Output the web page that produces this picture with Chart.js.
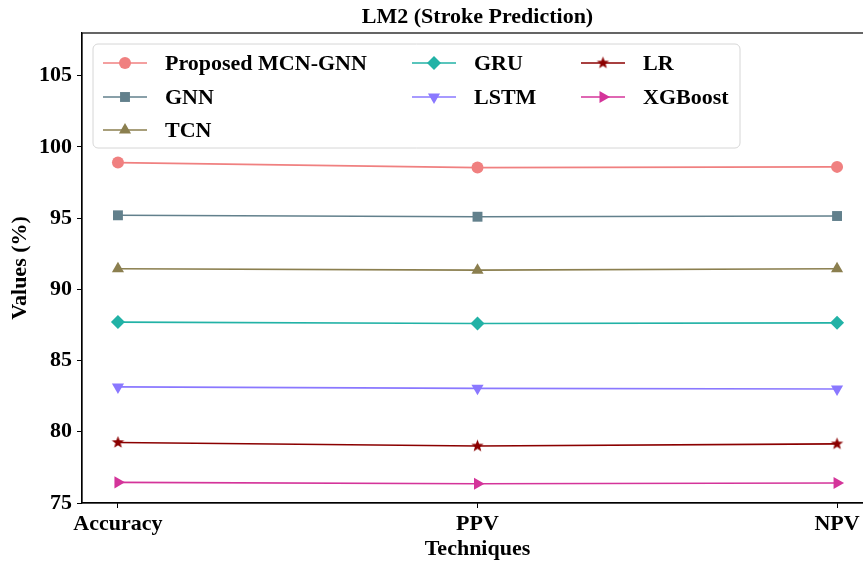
<!DOCTYPE html>
<html>
<head>
<meta charset="utf-8">
<title>LM2 (Stroke Prediction)</title>
<script src="https://cdn.jsdelivr.net/npm/chart.js@4.4.1/dist/chart.umd.min.js"></script>
<style>
  html, body { margin: 0; padding: 0; background: #fff; overflow: hidden; }
  #wrap { width: 880px; height: 566px; }
</style>
</head>
<body>
<div id="wrap"><canvas id="chart" width="880" height="566"></canvas></div>
<script>
// Metrics on the x axis
const categories = ['Accuracy', 'PPV', 'NPV'];

// Scores (%) for each model
const proposedMcnGnn = [98.9, 98.55, 98.6];
const gnn = [95.2, 95.1, 95.15];
const tcn = [91.45, 91.35, 91.45];
const gru = [87.7, 87.6, 87.65];
const lstm = [83.15, 83.05, 83.0];
const lr = [79.25, 79.0, 79.15];
const xgboost = [76.45, 76.35, 76.4];

// Y axis tick labels
const yTicks = [75, 80, 85, 90, 95, 100, 105];

const chartTitle = 'LM2 (Stroke Prediction)';
const FONT = "'Liberation Serif', 'Times New Roman', serif";
const FS = 22;

// Filled five-point star used for the LR series
function makeStar(color, outer) {
  const c = document.createElement('canvas');
  const s = Math.ceil(outer * 2 + 2);
  c.width = s; c.height = s;
  const g = c.getContext('2d');
  const cx = s / 2, cy = s / 2, inner = outer * 0.42;
  g.beginPath();
  for (let i = 0; i < 10; i++) {
    const r = i % 2 === 0 ? outer : inner;
    const a = -Math.PI / 2 + i * Math.PI / 5;
    const px = cx + r * Math.cos(a), py = cy + r * Math.sin(a);
    if (i === 0) g.moveTo(px, py); else g.lineTo(px, py);
  }
  g.closePath();
  g.fillStyle = color;
  g.fill();
  return c;
}

const series = [
  { label: 'Proposed MCN-GNN', values: proposedMcnGnn, color: '#F08080', style: 'circle', radius: 6, rotation: 0 },
  { label: 'GNN', values: gnn, color: '#62808C', style: 'rect', radius: 7, rotation: 0 },
  { label: 'TCN', values: tcn, color: '#8B7F4F', style: 'triangle', radius: 7, rotation: 0 },
  { label: 'GRU', values: gru, color: '#22B2A6', style: 'rectRot', radius: 7, rotation: 0 },
  { label: 'LSTM', values: lstm, color: '#8A78FF', style: 'triangle', radius: 7, rotation: 180 },
  { label: 'LR', values: lr, color: '#8B0000', style: makeStar('#8B0000', 6.5), radius: 6, rotation: 0 },
  { label: 'XGBoost', values: xgboost, color: '#D4349A', style: 'triangle', radius: 7, rotation: 90 }
];

const datasets = series.map(s => ({
  label: s.label,
  data: s.values.map((v, i) => ({ x: i, y: v })),
  borderColor: s.color,
  backgroundColor: s.color,
  borderWidth: 1.6,
  pointStyle: s.style,
  pointRadius: s.radius,
  pointHoverRadius: s.radius,
  pointRotation: s.rotation,
  pointBorderWidth: 0,
  pointBackgroundColor: s.color,
  tension: 0
}));

// Marker drawing for the legend, same shapes as the plotted points
function drawMarker(ctx, s, x, y) {
  ctx.save();
  ctx.fillStyle = s.color;
  if (s.style instanceof HTMLCanvasElement) {
    ctx.drawImage(s.style, x - s.style.width / 2, y - s.style.height / 2);
    ctx.restore();
    return;
  }
  const r = s.radius;
  ctx.translate(x, y);
  ctx.rotate(s.rotation * Math.PI / 180);
  ctx.beginPath();
  if (s.style === 'circle') {
    ctx.arc(0, 0, r, 0, Math.PI * 2);
  } else if (s.style === 'rect') {
    const h = r * Math.SQRT1_2;
    ctx.rect(-h, -h, 2 * h, 2 * h);
  } else if (s.style === 'rectRot') {
    ctx.moveTo(0, -r); ctx.lineTo(r, 0); ctx.lineTo(0, r); ctx.lineTo(-r, 0);
  } else if (s.style === 'triangle') {
    ctx.moveTo(0, -r);
    ctx.lineTo(r * Math.sin(2 * Math.PI / 3), -r * Math.cos(2 * Math.PI / 3));
    ctx.lineTo(r * Math.sin(4 * Math.PI / 3), -r * Math.cos(4 * Math.PI / 3));
  }
  ctx.closePath();
  ctx.fill();
  ctx.restore();
}

// Title centred over the plot area, frame around it, and a three-column legend
// filled column by column
const framePlugin = {
  id: 'frameAndLegend',
  afterDatasetsDraw(chart) {
    const { ctx, chartArea: a } = chart;
    ctx.save();
    ctx.strokeStyle = '#000';
    ctx.lineWidth = 1.2;
    ctx.strokeRect(a.left, a.top, a.right - a.left, a.bottom - a.top);

    ctx.fillStyle = '#000';
    ctx.font = 'bold ' + FS + 'px ' + FONT;
    ctx.textAlign = 'center';
    ctx.textBaseline = 'middle';
    ctx.fillText(chartTitle, (a.left + a.right) / 2, 17);
    ctx.restore();

    // legend box
    const bx = 93, by = 44, bw = 647, bh = 104, br = 5;
    ctx.save();
    ctx.beginPath();
    ctx.moveTo(bx + br, by);
    ctx.arcTo(bx + bw, by, bx + bw, by + bh, br);
    ctx.arcTo(bx + bw, by + bh, bx, by + bh, br);
    ctx.arcTo(bx, by + bh, bx, by, br);
    ctx.arcTo(bx, by, bx + bw, by, br);
    ctx.closePath();
    ctx.fillStyle = 'rgba(255,255,255,0.85)';
    ctx.fill();
    ctx.strokeStyle = '#d6d6d6';
    ctx.lineWidth = 1;
    ctx.stroke();

    const colX = [103, 412, 581];
    const rowY = [63, 97, 130];
    const perCol = [3, 2, 2];
    let idx = 0;
    ctx.font = 'bold ' + FS + 'px ' + FONT;
    ctx.textBaseline = 'middle';
    ctx.textAlign = 'left';
    for (let c = 0; c < 3; c++) {
      for (let r = 0; r < perCol[c]; r++) {
        const s = series[idx++];
        const x0 = colX[c], y = rowY[r];
        ctx.strokeStyle = s.color;
        ctx.lineWidth = 1.6;
        ctx.beginPath();
        ctx.moveTo(x0, y);
        ctx.lineTo(x0 + 44, y);
        ctx.stroke();
        drawMarker(ctx, s, x0 + 22, y);
        ctx.fillStyle = '#000';
        ctx.fillText(s.label, x0 + 62, y + 1);
      }
    }
    ctx.restore();
  }
};

new Chart(document.getElementById('chart'), {
  type: 'line',
  data: { datasets },
  plugins: [framePlugin],
  options: {
    responsive: false,
    animation: false,
    events: [],
    layout: { padding: { left: 0, right: 7, top: 33, bottom: 0 } },
    plugins: {
      legend: { display: false },
      tooltip: { enabled: false },
      title: { display: false }
    },
    scales: {
      x: {
        type: 'linear',
        min: -0.1,
        max: 2.1,
        afterBuildTicks(scale) {
          scale.ticks = categories.map((_, i) => ({ value: i }));
        },
        afterFit(scale) { scale.height = 63; },
        ticks: {
          color: '#000',
          font: { family: FONT, size: FS, weight: 'bold' },
          padding: 3,
          maxRotation: 0,
          autoSkip: false,
          callback: (v) => categories[v]
        },
        grid: { display: true, drawOnChartArea: false, drawTicks: true, tickLength: 5, color: '#000', lineWidth: 1 },
        border: { display: true, color: '#000', width: 1.2 },
        title: {
          display: true,
          text: 'Techniques',
          color: '#000',
          font: { family: FONT, size: FS, weight: 'bold', lineHeight: 1.2 },
          padding: { top: 0, bottom: 3 }
        }
      },
      y: {
        min: 75,
        max: 108,
        afterBuildTicks(scale) {
          scale.ticks = yTicks.map(v => ({ value: v }));
        },
        afterFit(scale) { scale.width = 82; },
        ticks: {
          color: '#000',
          font: { family: FONT, size: FS, weight: 'bold' },
          padding: 5
        },
        grid: { display: true, drawOnChartArea: false, drawTicks: true, tickLength: 5, color: '#000', lineWidth: 1 },
        border: { display: true, color: '#000', width: 1.2 },
        title: {
          display: true,
          text: 'Values (%)',
          color: '#000',
          font: { family: FONT, size: FS, weight: 'bold', lineHeight: 1.2 },
          padding: { top: 7, bottom: 0 }
        }
      }
    }
  }
});
</script>
</body>
</html>
